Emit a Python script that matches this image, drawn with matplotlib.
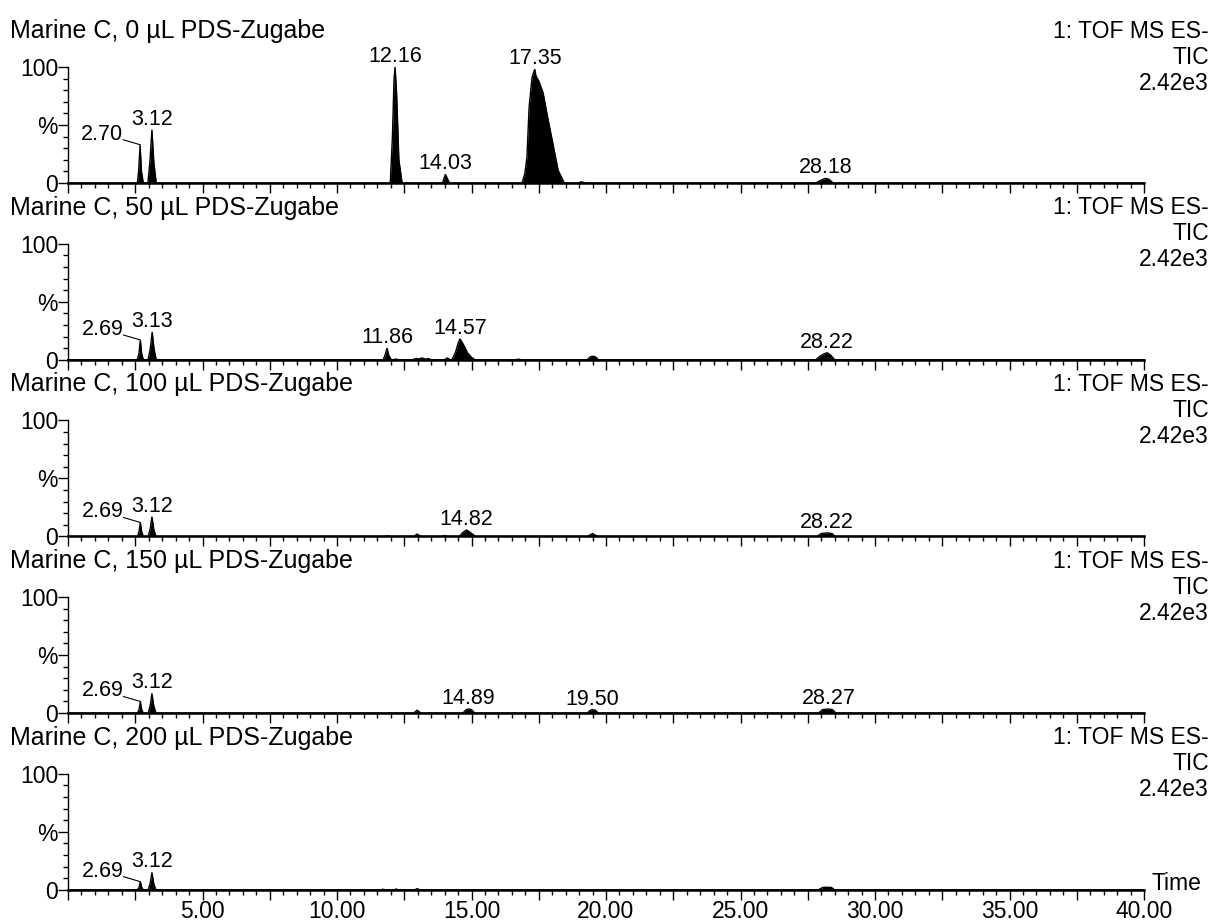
import numpy as np
import matplotlib
matplotlib.use("Agg")
import matplotlib.pyplot as plt
from matplotlib.ticker import MultipleLocator, FixedLocator, FuncFormatter

plt.rcParams['font.family'] = ['Liberation Sans', 'DejaVu Sans']

# ---------------- data ----------------
titles = ["Marine C, 0 µL PDS-Zugabe", "Marine C, 50 µL PDS-Zugabe",
          "Marine C, 100 µL PDS-Zugabe", "Marine C, 150 µL PDS-Zugabe",
          "Marine C, 200 µL PDS-Zugabe"]
right_lines = ["1: TOF MS ES-", "TIC", "2.42e3"]

# retention time (min) / relative intensity (%) vertices for each trace
t_0 = [0.00, 2.58, 2.63, 2.68, 2.73, 2.80, 2.97, 3.05, 3.12, 3.19, 3.28,
       11.98, 12.06, 12.12, 12.16, 12.22, 12.30, 12.42,
       13.92, 14.03, 14.18,
       16.88, 16.98, 17.06, 17.14, 17.25, 17.32, 17.35, 17.40, 17.50, 17.66,
       17.82, 18.00, 18.22, 18.45,
       18.95, 19.08, 19.25,
       27.80, 27.95, 28.10, 28.18, 28.30, 28.45,
       40.00]
i_0 = [0, 0, 12, 33, 10, 0, 0, 20, 46, 18, 0,
       0, 40, 90, 100, 75, 20, 0,
       0, 7.5, 0,
       0, 8, 22, 65, 91, 96, 98, 92, 88, 78,
       58, 37, 11, 0,
       0, 1, 0,
       0, 2, 3.5, 4, 3, 0,
       0]

t_50 = [0.00, 2.58, 2.64, 2.69, 2.74, 2.80, 2.98, 3.06, 3.13, 3.20, 3.28,
        11.72, 11.80, 11.86, 11.92, 12.02, 12.10, 12.18, 12.26,
        12.80, 12.95, 13.05, 13.15, 13.30, 13.40, 13.50,
        14.00, 14.10, 14.20, 14.27, 14.40, 14.50, 14.57, 14.70, 14.85, 15.00, 15.13,
        16.65, 16.75, 16.85,
        19.30, 19.42, 19.50, 19.60, 19.72,
        27.80, 27.95, 28.10, 28.22, 28.35, 28.50,
        40.00]
i_50 = [0, 0, 6, 17, 5, 0, 0, 10, 24, 9, 0,
        0, 5, 10, 4, 0, 0, 0.6, 0,
        0, 1, 0.6, 1.5, 0.5, 1, 0,
        0, 1.5, 0, 0, 6, 14, 18, 13, 6, 2, 0,
        0, 0.5, 0,
        0, 2.5, 3, 2.5, 0,
        0, 3, 5, 6, 4, 0,
        0]

t_100 = [0.00, 2.58, 2.64, 2.69, 2.74, 2.80, 2.98, 3.06, 3.12, 3.19, 3.27,
         11.75, 11.87, 11.98,
         12.85, 12.98, 13.12,
         13.90, 14.00, 14.10,
         14.55, 14.68, 14.82, 14.95, 15.15,
         19.32, 19.50, 19.68,
         27.85, 28.00, 28.22, 28.40, 28.52,
         40.00]
i_100 = [0, 0, 4, 12, 4, 0, 0, 7, 17, 6, 0,
         0, 0.5, 0,
         0, 2, 0,
         0, 0.7, 0,
         0, 3.5, 5.5, 3.5, 0,
         0, 2.5, 0,
         0, 2.5, 3, 2.5, 0,
         0]

t_150 = [0.00, 2.58, 2.64, 2.69, 2.74, 2.80, 2.98, 3.06, 3.12, 3.19, 3.27,
         12.85, 12.98, 13.12,
         14.68, 14.80, 14.89, 15.00, 15.12,
         19.30, 19.42, 19.50, 19.60, 19.72,
         27.90, 28.05, 28.27, 28.42, 28.55,
         40.00]
i_150 = [0, 0, 3, 10, 3, 0, 0, 7, 17, 6, 0,
         0, 2.5, 0,
         0, 3, 3.5, 3, 0,
         0, 2.5, 3, 2.5, 0,
         0, 3, 3.5, 3, 0,
         0]

t_200 = [0.00, 2.58, 2.64, 2.69, 2.74, 2.80, 2.98, 3.06, 3.12, 3.19, 3.27,
         11.62, 11.70, 11.78,
         12.12, 12.20, 12.28,
         12.88, 12.98, 13.08,
         27.90, 28.05, 28.20, 28.38, 28.50,
         40.00]
i_200 = [0, 0, 2, 7, 2, 0, 0, 6, 15, 5, 0,
         0, 0.5, 0,
         0, 0.7, 0,
         0, 1, 0,
         0, 2, 2.2, 2, 0,
         0]

times = [t_0, t_50, t_100, t_150, t_200]
intens = [i_0, i_50, i_100, i_150, i_200]

peak_labels = [["2.70", "3.12", "12.16", "14.03", "17.35", "28.18"],
               ["2.69", "3.13", "11.86", "14.57", "28.22"],
               ["2.69", "3.12", "14.82", "28.22"],
               ["2.69", "3.12", "14.89", "19.50", "28.27"],
               ["2.69", "3.12"]]

x_tick_labels = ["5.00", "10.00", "15.00", "20.00", "25.00", "30.00", "35.00", "40.00"]

# ---------------- layout ----------------
W, H = 1216, 923
fig = plt.figure(figsize=(W / 100, H / 100), dpi=100)
x0, x1 = 68, 1144
ax_h = 116
step = 176.7
BIG = 16.5
TITLE = 18
SMALL = 15.5
px = 72 / 100  # points per pixel

for k in range(5):
    ybase = 183 + step * k
    ax = fig.add_axes([x0 / W, 1 - ybase / H, (x1 - x0) / W, ax_h / H])
    t = np.array(times[k], dtype=float)
    y = np.array(intens[k], dtype=float)
    ax.fill_between(t, 0, y, color='black', lw=0, clip_on=False)
    ax.plot(t, y, color='black', lw=1.0, clip_on=False, solid_joinstyle='miter')
    ax.set_xlim(0, 40)
    ax.set_ylim(0, 100)
    for s in ('top', 'right'):
        ax.spines[s].set_visible(False)
    ax.spines['bottom'].set_linewidth(1.8)
    ax.spines['left'].set_linewidth(1.0)
    ax.spines['bottom'].set_zorder(0)

    # x ticks
    ax.xaxis.set_major_locator(MultipleLocator(2.5))
    ax.xaxis.set_minor_locator(MultipleLocator(0.5))
    ax.tick_params(axis='x', which='major', direction='out', length=10 * px,
                   width=1.0, pad=0, labelsize=BIG)
    ax.tick_params(axis='x', which='minor', direction='out', length=5 * px, width=1.0)
    if k == 4:
        labmap = {float(s): s for s in x_tick_labels}
        ax.xaxis.set_major_formatter(FuncFormatter(
            lambda v, p: labmap.get(round(v, 2), "")))
    else:
        ax.xaxis.set_major_formatter(FuncFormatter(lambda v, p: ""))

    # y ticks
    ax.yaxis.set_major_locator(FixedLocator([0, 50, 100]))
    ax.yaxis.set_minor_locator(MultipleLocator(10))
    ax.set_yticklabels(["0", "%", "100"])
    ax.tick_params(axis='y', which='major', direction='out', length=10 * px,
                   width=1.0, pad=0, labelsize=BIG)
    ax.tick_params(axis='y', which='minor', direction='out', length=5 * px, width=1.0)

    # peak labels
    for lab in peak_labels[k]:
        lt = float(lab)
        near = np.abs(t - lt) < 0.25
        top = y[near].max()
        ti = t[near][np.argmax(y[near])]
        if lab.startswith("2.6") or lab == "2.70":
            ax.annotate(lab, xy=(ti, top), xytext=(-17 * px, 5 * px),
                        textcoords='offset points', ha='right', va='baseline',
                        fontsize=SMALL, annotation_clip=False)
            ax.annotate("", xy=(ti, top), xytext=(-17 * px, 5 * px),
                        textcoords='offset points',
                        arrowprops=dict(arrowstyle='-', lw=0.8, color='black',
                                        shrinkA=0, shrinkB=0),
                        annotation_clip=False)
        else:
            ax.annotate(lab, xy=(lt, top), xytext=(0, 5 * px),
                        textcoords='offset points', ha='center', va='baseline',
                        fontsize=SMALL, annotation_clip=False)

    # titles
    fig.text(10 / W, 1 - (ybase - 152) / H, titles[k], ha='left', va='center',
             fontsize=TITLE)
    for j, line in enumerate(right_lines):
        fig.text(1209 / W, 1 - (ybase - 152 + 26 * j) / H, line, ha='right',
                 va='center', fontsize=BIG)

fig.text(1152 / W, 1 - 884 / H, "Time", ha='left', va='center', fontsize=BIG)

fig.savefig("out.png", dpi=100)
